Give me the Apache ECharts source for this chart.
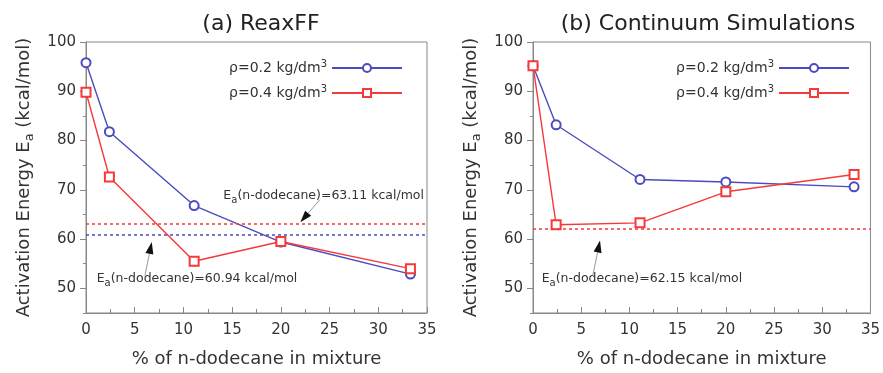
<!DOCTYPE html>
<html>
<head>
<meta charset="utf-8">
<script src="https://cdn.jsdelivr.net/npm/echarts@6/dist/echarts.min.js"></script>
<style>
  html, body { margin: 0; padding: 0; background: #fff; }
  #chart { width: 883px; height: 373px; }
</style>
</head>
<body>
<div id="chart"></div>
<script>
// % of n-dodecane in mixture
const xPct = [0, 2.4, 11.1, 20, 33.3];

// (a) ReaxFF
const reaxLow = [95.8, 81.8, 66.8, 59.4, 52.9];   // rho = 0.2
const reaxHigh = [89.8, 72.6, 55.5, 59.5, 54.0];  // rho = 0.4
const reaxRefHigh = 63.11;
const reaxRefLow = 60.94;

// (b) Continuum Simulations
const contLow = [95.2, 83.2, 72.1, 71.6, 70.6];
const contHigh = [95.2, 62.9, 63.3, 69.6, 73.1];
const contRef = 62.15;

const yMajor = [50, 60, 70, 80, 90, 100];

// annotation arrows [tail, tip] in data coords
const arrows = [
  { grid: 0, from: [24.0, 68.0], to: [22.0, 63.4] },
  { grid: 0, from: [6.05, 52.6], to: [6.75, 59.4] },
  { grid: 1, from: [6.2, 52.6], to: [6.95, 59.7] }
];

const BLUE = '#4b4bbf';
const RED = '#f53a3a';
const FONT = 'DejaVu Sans';
const nameLow = 'ρ=0.2 kg/dm3';
const nameHigh = 'ρ=0.4 kg/dm3';

const pairs = (ys) => xPct.map((x, i) => [x, ys[i]]);

const richSub = {
  sub: { fontSize: 10, fontFamily: FONT, color: '#333', padding: [9, 0, 0, 0] }
};

function refText(v, x, y) {
  return {
    coord: [x, y],
    symbol: 'circle',
    symbolSize: 0,
    label: {
      show: true,
      position: 'right',
      distance: 0,
      fontFamily: FONT,
      fontSize: 12.5,
      color: '#333',
      formatter: 'E{sub|a}(n-dodecane)=' + v.toFixed(2) + ' kcal/mol',
      rich: richSub
    }
  };
}

function dotted(v, color) {
  return {
    silent: true,
    symbol: ['none', 'none'],
    label: { show: false },
    lineStyle: { color: color, type: [3, 3], width: 1.5 },
    data: [{ yAxis: v }]
  };
}

function lineSeries(name, data, g, color, sym, extra) {
  return Object.assign({
    name: name,
    type: 'line',
    xAxisIndex: g,
    yAxisIndex: g,
    data: pairs(data),
    color: color,
    symbol: sym,
    symbolSize: 9,
    showAllSymbol: true,
    lineStyle: { width: 1.4, color: color },
    itemStyle: { color: color, borderWidth: 1.4 },
    z: 3
  }, extra || {});
}

function xAx(g) {
  return {
    type: 'value',
    gridIndex: g,
    min: 0, max: 35, interval: 5,
    name: '% of n-dodecane in mixture',
    nameLocation: 'middle',
    nameGap: 37,
    nameTextStyle: { fontFamily: FONT, fontSize: 18, color: '#333' },
    axisLine: { lineStyle: { color: '#888' } },
    axisTick: { inside: true, length: 6, lineStyle: { color: '#888' } },
    minorTick: { show: true, splitNumber: 2, length: 4, lineStyle: { color: '#888' } },
    axisLabel: { fontFamily: FONT, fontSize: 15, color: '#333', margin: 10 },
    splitLine: { show: false }
  };
}

function yAx(g) {
  return {
    type: 'value',
    gridIndex: g,
    position: 'left',
    min: 45, max: 100,
    name: 'Activation Energy E{sub|a} (kcal/mol)',
    nameLocation: 'middle',
    nameGap: 50,
    nameTextStyle: {
      fontFamily: FONT, fontSize: 18, color: '#333',
      rich: { sub: { fontSize: 13, fontFamily: FONT, color: '#333', padding: [11, 0, 0, 0] } }
    },
    axisLine: { lineStyle: { color: '#888' } },
    axisTick: { length: 6, customValues: yMajor, lineStyle: { color: '#888' } },
    axisLabel: { fontFamily: FONT, fontSize: 15, color: '#333', margin: 10, customValues: yMajor },
    splitLine: { show: false }
  };
}

function yMinor(g) {
  return {
    type: 'value',
    gridIndex: g,
    position: 'left',
    offset: 0,
    min: 45, max: 100, interval: 5,
    axisLine: { show: false },
    axisTick: { length: 3, lineStyle: { color: '#888' } },
    axisLabel: { show: false },
    splitLine: { show: false }
  };
}

function legendAt(right) {
  return {
    orient: 'vertical',
    right: right,
    top: 54,
    align: 'right',
    itemWidth: 70,
    itemHeight: 10,
    itemGap: 9,
    data: [nameLow, nameHigh],
    formatter: (n) => n.replace('dm3', 'dm{sup|3}'),
    textStyle: {
      fontFamily: FONT, fontSize: 14, color: '#333',
      rich: { sup: { fontSize: 10, fontFamily: FONT, color: '#333', padding: [0, 0, 8, 0] } }
    }
  };
}

const option = {
  animation: false,
  backgroundColor: '#fff',
  title: [
    { text: '(a) ReaxFF', left: 256, top: 8, textAlign: 'center',
      textStyle: { fontFamily: FONT, fontSize: 22, fontWeight: 'normal', color: '#222' } },
    { text: '(b) Continuum Simulations', left: 703, top: 8, textAlign: 'center',
      textStyle: { fontFamily: FONT, fontSize: 22, fontWeight: 'normal', color: '#222' } }
  ],
  legend: [legendAt(475), legendAt(28)],
  grid: [
    { left: 86, right: 456, top: 42, bottom: 58, show: true, borderColor: '#888', borderWidth: 1 },
    { left: 533, right: 10, top: 42, bottom: 58, show: true, borderColor: '#888', borderWidth: 1 }
  ],
  xAxis: [xAx(0), xAx(1)],
  yAxis: [yAx(0), yAx(1), yMinor(0), yMinor(1)],
  series: [
    lineSeries(nameLow, reaxLow, 0, BLUE, 'emptyCircle', {
      markLine: dotted(reaxRefLow, BLUE),
      markPoint: { data: [refText(reaxRefLow, 1.1, 52.0)] }
    }),
    lineSeries(nameHigh, reaxHigh, 0, RED, 'emptyRect', {
      markLine: dotted(reaxRefHigh, RED),
      markPoint: { data: [refText(reaxRefHigh, 14.1, 68.8)] }
    }),
    lineSeries(nameLow, contLow, 1, BLUE, 'emptyCircle'),
    lineSeries(nameHigh, contHigh, 1, RED, 'emptyRect', {
      markLine: dotted(contRef, RED),
      markPoint: { data: [refText(contRef, 0.9, 52.0)] }
    })
  ]
};

const chart = echarts.init(document.getElementById('chart'));
chart.setOption(option);

// arrows: gray shaft + black filled head, placed through the grid scales
const graphics = [];
arrows.forEach((a) => {
  const p0 = chart.convertToPixel({ gridIndex: a.grid }, a.from);
  const p1 = chart.convertToPixel({ gridIndex: a.grid }, a.to);
  const dx = p1[0] - p0[0], dy = p1[1] - p0[1];
  const len = Math.sqrt(dx * dx + dy * dy);
  const ux = dx / len, uy = dy / len;
  const headLen = 12, halfW = 4;
  const bx = p1[0] - ux * headLen, by = p1[1] - uy * headLen;
  graphics.push({
    type: 'line', silent: true, z: 10,
    shape: { x1: p0[0], y1: p0[1], x2: bx, y2: by },
    style: { stroke: '#999', lineWidth: 1 }
  });
  graphics.push({
    type: 'polygon', silent: true, z: 10,
    shape: { points: [[p1[0], p1[1]], [bx - uy * halfW, by + ux * halfW], [bx + uy * halfW, by - ux * halfW]] },
    style: { fill: '#111' }
  });
});
chart.setOption({ graphic: graphics });
</script>
</body>
</html>
